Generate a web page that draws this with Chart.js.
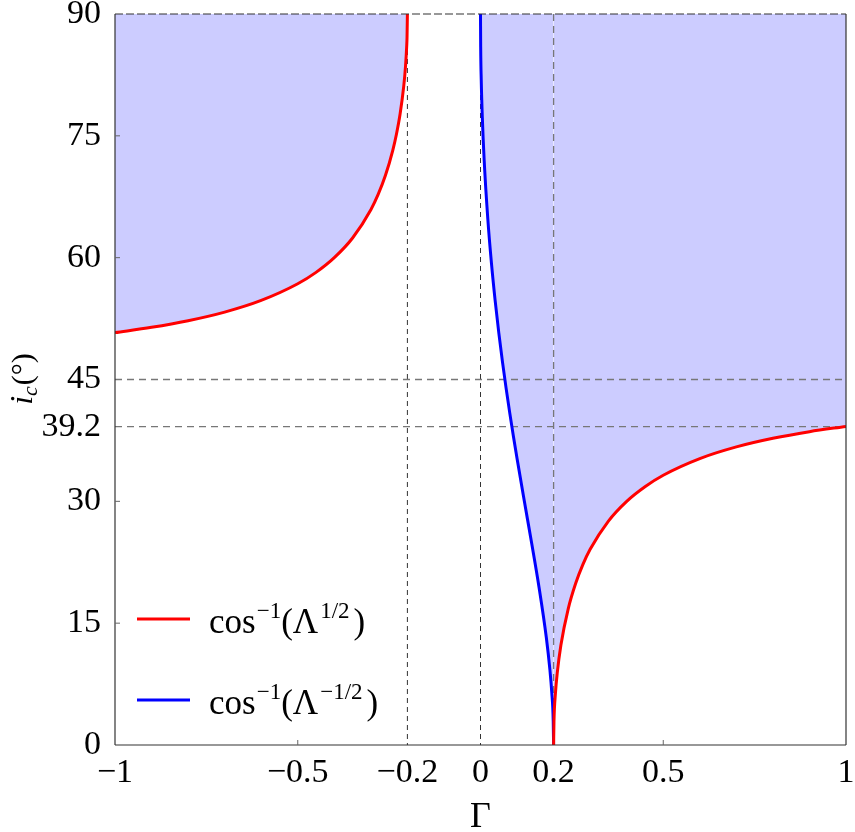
<!DOCTYPE html>
<html>
<head>
<meta charset="utf-8">
<script src="https://cdn.jsdelivr.net/npm/chart.js@4.4.1/dist/chart.umd.min.js"></script>
<style>
  html, body { margin: 0; padding: 0; background: #fff; }
  #wrap { width: 855px; height: 832px; }
</style>
</head>
<body>
<div id="wrap"><canvas id="chart"></canvas></div>
<script>
// values (Gamma on x, i_c in degrees on y)
const redLeftGamma = [-1, -0.9, -0.8, -0.7, -0.6, -0.5, -0.45, -0.4, -0.35, -0.3, -0.28, -0.26, -0.24, -0.23, -0.22, -0.21, -0.205, -0.202, -0.201, -0.2];
const redLeftAngle = [50.77, 51.42, 52.24, 53.30, 54.74, 56.79, 58.19, 60.00, 62.42, 65.91, 67.79, 70.14, 73.22, 75.20, 77.69, 81.12, 83.66, 85.97, 87.14, 90];

const redRightGamma = [0.2, 0.201, 0.205, 0.21, 0.22, 0.24, 0.26, 0.28, 0.3, 0.35, 0.4, 0.45, 0.5, 0.6, 0.7, 0.8, 0.9, 1];
const redRightAngle = [0, 2.86, 6.34, 8.88, 12.31, 16.77, 19.85, 22.20, 24.09, 27.57, 30.00, 31.80, 33.21, 35.26, 36.70, 37.76, 38.58, 39.23];

const blueGamma = [0, 0.0005, 0.002, 0.005, 0.01, 0.02, 0.03, 0.04, 0.05, 0.06, 0.07, 0.08, 0.09, 0.1, 0.12, 0.14, 0.16, 0.18, 0.19, 0.195, 0.199, 0.2];
const blueAngle = [90, 85.95, 81.91, 77.24, 72.02, 64.76, 59.29, 54.74, 50.77, 47.20, 43.94, 40.89, 38.02, 35.26, 30.00, 24.84, 19.46, 13.26, 9.21, 6.46, 2.87, 0];

const xTicks = [-1, -0.5, -0.2, 0, 0.2, 0.5, 1];
const yTicks = [0, 15, 30, 39.2, 45, 60, 75, 90];
const darkGuides = [-0.2, 0];
const greyGuidesX = [0.2];
const greyGuidesY = [39.2, 45];
const innerTicksX = [-0.5, 0.5];
const innerTicksY = [15, 30, 60, 75];

const SERIF = "'Liberation Serif', 'DejaVu Serif', serif";
const FILL = '#ccccff';

const toXY = (xs, ys) => xs.map((x, i) => ({ x, y: ys[i] }));
const fmt = v => (v < 0 ? '\u2212' + Math.abs(v) : String(v));

function line(ctx, x1, y1, x2, y2) {
    ctx.beginPath();
    ctx.moveTo(x1, y1);
    ctx.lineTo(x2, y2);
    ctx.stroke();
}

// draws a run of text pieces with their own size / raise
function richText(ctx, parts, x, y) {
    let cx = x;
    parts.forEach(p => {
        ctx.font = (p.italic ? 'italic ' : '') + p.size + 'px ' + SERIF;
        ctx.fillText(p.t, cx, y + (p.dy || 0));
        cx += ctx.measureText(p.t).width + (p.gap || 0);
    });
    return cx - x;
}
function richWidth(ctx, parts) {
    let w = 0;
    parts.forEach(p => {
        ctx.font = (p.italic ? 'italic ' : '') + p.size + 'px ' + SERIF;
        w += ctx.measureText(p.t).width + (p.gap || 0);
    });
    return w;
}

const legendRows = [
    { color: '#ff0000', y: 619, parts: [
        { t: 'cos', size: 35, gap: 1 }, { t: '\u22121', size: 23, dy: -15 }, { t: '(\u039b', size: 35, gap: 2 },
        { t: '1/2', size: 23, dy: -15, gap: 4 }, { t: ')', size: 35 }] },
    { color: '#0000ff', y: 700, parts: [
        { t: 'cos', size: 35, gap: 1 }, { t: '\u22121', size: 23, dy: -15 }, { t: '(\u039b', size: 35, gap: 2 },
        { t: '\u22121/2', size: 23, dy: -15, gap: 4 }, { t: ')', size: 35 }] }
];

const overlay = {
    id: 'overlay',
    beforeDatasetsDraw(chart) {
        const { ctx, chartArea: a, scales: { x, y } } = chart;
        ctx.save();
        ctx.lineWidth = 1;
        ctx.strokeStyle = '#333';
        ctx.setLineDash([5, 4]);
        darkGuides.forEach(g => line(ctx, x.getPixelForValue(g), a.top, x.getPixelForValue(g), a.bottom));
        ctx.strokeStyle = '#777';
        ctx.lineWidth = 1.3;
        ctx.setLineDash([7, 5]);
        greyGuidesX.forEach(g => line(ctx, x.getPixelForValue(g), a.top, x.getPixelForValue(g), a.bottom));
        greyGuidesY.forEach(v => line(ctx, a.left, y.getPixelForValue(v), a.right, y.getPixelForValue(v)));
        ctx.restore();
    },
    afterDatasetsDraw(chart) {
        const { ctx, chartArea: a, scales: { x, y } } = chart;
        ctx.save();
        // frame
        ctx.strokeStyle = '#333';
        ctx.lineWidth = 1.2;
        line(ctx, a.left, a.top, a.left, a.bottom);
        line(ctx, a.left, a.bottom, a.right, a.bottom);
        line(ctx, a.right, a.top, a.right, a.bottom);
        ctx.setLineDash([8, 3]);
        line(ctx, a.left, a.top, a.right, a.top);
        ctx.setLineDash([]);
        // small inward ticks
        ctx.strokeStyle = '#666';
        ctx.lineWidth = 1;
        innerTicksY.forEach(v => line(ctx, a.left, y.getPixelForValue(v), a.left + 5, y.getPixelForValue(v)));
        innerTicksX.forEach(v => line(ctx, x.getPixelForValue(v), a.bottom, x.getPixelForValue(v), a.bottom - 5));
        // legend
        ctx.fillStyle = '#000';
        ctx.textBaseline = 'alphabetic';
        legendRows.forEach(r => {
            ctx.strokeStyle = r.color;
            ctx.lineWidth = 3;
            line(ctx, 137, r.y, 190, r.y);
            richText(ctx, r.parts, 209, r.y + 14);
        });
        // y axis title i_c(°)
        const title = [{ t: 'i', size: 32, italic: true }, { t: 'c', size: 22, italic: true, dy: 5, gap: 1 }, { t: '(\u00b0)', size: 30 }];
        ctx.translate(32, 379);
        ctx.rotate(-Math.PI / 2);
        const w = richWidth(ctx, title);
        richText(ctx, title, -w / 2, 0);
        ctx.restore();
    }
};

const lineStyle = {
    borderWidth: 3,
    pointRadius: 0,
    fill: 'end',
    backgroundColor: FILL,
    cubicInterpolationMode: 'monotone'
};

new Chart(document.getElementById('chart'), {
    type: 'line',
    data: {
        datasets: [
            { label: 'cos\u207b\u00b9(\u039b^1/2)', data: toXY(redLeftGamma, redLeftAngle), borderColor: '#ff0000', ...lineStyle },
            { label: 'cos\u207b\u00b9(\u039b^1/2) ', data: toXY(redRightGamma, redRightAngle), borderColor: '#ff0000', ...lineStyle },
            { label: 'cos\u207b\u00b9(\u039b^-1/2)', data: toXY(blueGamma, blueAngle), borderColor: '#0000ff', ...lineStyle }
        ]
    },
    options: {
        responsive: true,
        maintainAspectRatio: false,
        animation: false,
        layout: { padding: { left: 0, right: 9, top: 14, bottom: 0 } },
        plugins: {
            legend: { display: false },
            tooltip: { enabled: false },
            filler: { drawTime: 'beforeDatasetsDraw' }
        },
        scales: {
            x: {
                type: 'linear',
                min: -1,
                max: 1,
                grid: { display: false },
                border: { display: false },
                afterBuildTicks: s => { s.ticks = xTicks.map(v => ({ value: v })); },
                afterFit: s => { s.height = 87; s.paddingLeft = 0; s.paddingRight = 0; },
                ticks: {
                    autoSkip: false,
                    maxRotation: 0,
                    padding: 0,
                    color: '#000',
                    font: { family: SERIF, size: 34 },
                    callback: v => fmt(v)
                },
                title: {
                    display: true,
                    text: '\u0393',
                    color: '#000',
                    padding: 0,
                    font: { family: SERIF, size: 36, lineHeight: 0.8 }
                }
            },
            y: {
                type: 'linear',
                min: 0,
                max: 90,
                grid: { display: false },
                border: { display: false },
                afterBuildTicks: s => { s.ticks = yTicks.map(v => ({ value: v })); },
                afterFit: s => { s.width = 115; s.paddingTop = 0; s.paddingBottom = 0; },
                ticks: {
                    autoSkip: false,
                    padding: 6,
                    color: '#000',
                    font: { family: SERIF, size: 34 },
                    callback: v => fmt(v)
                }
            }
        }
    },
    plugins: [overlay]
});
</script>
</body>
</html>
